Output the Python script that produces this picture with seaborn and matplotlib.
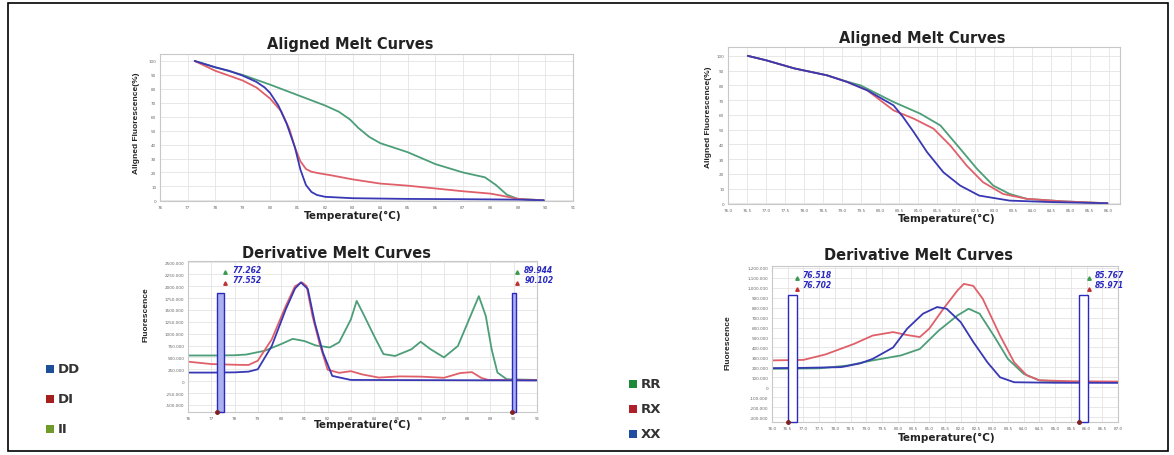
import numpy as np
import pandas as pd
import seaborn as sns
import matplotlib.pyplot as plt
from matplotlib.patches import Rectangle
from matplotlib.transforms import blended_transform_factory

W, H = 1174, 456

# ---- left assay (DD / DI / II) ----
al_dd_t = [77.26, 78.0, 78.5, 79.0, 79.5, 79.8, 80.0, 80.3, 80.6, 80.9, 81.1, 81.3, 81.5, 81.7, 82.0, 83.0, 85.0, 87.0, 89.0, 89.94]
al_dd_v = [100, 95.5, 93, 89.5, 85, 81, 77, 68, 55, 38, 22, 11, 6, 3.8, 2.5, 1.5, 1, 0.8, 0.5, 0]
al_di_t = [77.26, 78.0, 79.0, 79.5, 80.0, 80.4, 80.7, 80.9, 81.1, 81.3, 81.5, 81.8, 82.2, 83.0, 84.0, 85.0, 86.0, 87.0, 88.0, 88.5, 89.0, 89.94]
al_di_v = [100, 93, 86, 81, 73, 64, 51, 38, 28, 22.5, 20.5, 19.3, 18, 15, 12, 10.5, 8.5, 6.5, 4.8, 3, 1, 0]
al_ii_t = [77.26, 78.0, 79.0, 80.0, 81.0, 82.0, 82.5, 82.9, 83.2, 83.6, 84.0, 85.0, 86.0, 87.0, 87.8, 88.2, 88.6, 89.0, 89.94]
al_ii_v = [100, 95.5, 90, 83, 75.5, 68, 63.5, 58, 52, 45.5, 41, 34.5, 26, 20, 16.5, 11, 4, 1, 0]

dv_dd_t = [76, 77, 78, 78.6, 79.0, 79.6, 80.2, 80.6, 80.85, 81.15, 81.45, 81.8, 82.2, 83.0, 91]
dv_dd_v = [180, 180, 185, 200, 250, 740, 1510, 1950, 2080, 1940, 1230, 600, 110, 25, 15]
dv_di_t = [76, 77, 78, 78.6, 79.0, 79.6, 80.2, 80.6, 80.9, 81.1, 81.35, 81.65, 82.0, 82.5, 83.0, 83.5, 84.2, 85.1, 86.0, 87.0, 87.7, 88.2, 88.6, 88.9, 91]
dv_di_v = [410, 360, 345, 340, 430, 880, 1580, 2000, 2080, 2000, 1370, 800, 240, 175, 210, 140, 75, 100, 95, 70, 170, 190, 70, 25, 20]
dv_ii_t = [76, 77, 78, 78.5, 79.3, 80.0, 80.5, 81.0, 81.5, 82.1, 82.5, 83.0, 83.25, 83.5, 84.0, 84.4, 84.9, 85.6, 86.0, 86.4, 87.0, 87.6, 88.2, 88.5, 88.8, 89.05, 89.3, 89.7, 91]
dv_ii_v = [540, 540, 545, 560, 640, 780, 890, 845, 750, 710, 820, 1300, 1690, 1450, 950, 570, 530, 670, 830, 680, 500, 740, 1440, 1790, 1370, 670, 180, 40, 25]

# ---- right assay (RR / RX / XX) ----
ar_xx_t = [76.52, 77.0, 77.74, 78.6, 79.13, 79.66, 80.35, 80.6, 80.88, 81.23, 81.66, 82.1, 82.6, 83.4, 84.5, 85.97]
ar_xx_v = [100, 97, 91.5, 86.8, 82.3, 76.6, 66.4, 58.5, 48.3, 34.7, 21, 12, 5.2, 1.8, 0.8, 0]
ar_rx_t = [76.52, 77.0, 77.74, 78.6, 79.13, 79.66, 80.35, 80.88, 81.4, 81.84, 82.27, 82.7, 83.23, 83.85, 84.8, 85.97]
ar_rx_v = [100, 97, 91.5, 86.8, 82.3, 76.6, 63, 57.4, 50.6, 39.2, 25.6, 14.3, 6.3, 3, 1.3, 0]
ar_rr_t = [76.52, 77.0, 77.74, 78.6, 79.13, 79.48, 80.35, 81.05, 81.58, 82.1, 82.54, 82.97, 83.4, 83.85, 84.8, 85.97]
ar_rr_v = [100, 97, 91.5, 86.8, 82.5, 80, 68.7, 60.8, 52.8, 37, 23.4, 12, 6.3, 3, 1.3, 0]

dr_rx_t = [76.0, 77.0, 77.7, 78.6, 79.2, 79.85, 80.3, 80.7, 81.0, 81.45, 81.9, 82.1, 82.4, 82.7, 83.25, 83.7, 84.1, 84.5, 85.5, 87.0]
dr_rx_v = [270, 275, 330, 435, 520, 555, 525, 505, 590, 790, 975, 1040, 1020, 890, 520, 250, 120, 70, 60, 57]
dr_xx_t = [76.0, 77.0, 78.2, 78.8, 79.2, 79.85, 80.3, 80.8, 81.25, 81.55, 82.0, 82.4, 82.85, 83.25, 83.7, 85.0, 87.0]
dr_xx_v = [192, 195, 202, 240, 285, 400, 590, 740, 807, 790, 655, 455, 250, 100, 50, 45, 44]
dr_rr_t = [76.0, 77.5, 78.4, 79.2, 80.1, 80.7, 81.3, 81.9, 82.25, 82.6, 83.05, 83.5, 84.0, 84.5, 85.5, 87.0]
dr_rr_v = [185, 190, 218, 270, 320, 385, 570, 723, 790, 740, 520, 285, 135, 68, 55, 50]

cursor_left = [("77.262", "77.552"), ("89.944", "90.102")]
cursor_right = [("76.518", "76.702"), ("85.767", "85.971")]

left_names = ["DD", "DI", "II"]
right_names = ["RR", "RX", "XX"]

BLUE, RED, GREEN = "#3838b4", "#e0606a", "#4c9e78"
CUR = "#2a2ac0"
TRI_G, TRI_R = "#3a9a50", "#c03030"

sns.set_style('whitegrid')
plt.rcParams['font.family'] = ['DejaVu Sans']

fig = plt.figure(figsize=(W / 100, H / 100), dpi=100)


def px_axes(left, top, right, bottom):
    return fig.add_axes([left / W, 1 - bottom / H, (right - left) / W, (bottom - top) / H])


def ftext(x, y, s, **kw):
    fig.text(x / W, 1 - y / H, s, **kw)


def style_axes(ax, xlim, ylim, xticks, xlabels, yticks, ylabels):
    ax.set_xlim(*xlim)
    ax.set_ylim(*ylim)
    ax.set_xticks(xticks)
    ax.set_xticklabels(xlabels)
    ax.set_yticks(yticks)
    ax.set_yticklabels(ylabels)
    ax.tick_params(labelsize=3.0, colors='#666666', length=1.5, width=0.5, pad=1.2)
    ax.grid(True, color='#e4e4e4', linewidth=0.6)
    for s in ax.spines.values():
        s.set_color('#c8c8c8')
        s.set_linewidth(0.8)
    ax.set_xlabel('')
    ax.set_ylabel('')


def draw_lines(ax, series):
    for t, v, c in series:
        df = pd.DataFrame({'t': t, 'v': v})
        sns.lineplot(data=df, x='t', y='v', color=c, linewidth=1.3, sort=False, estimator=None, ax=ax)


def draw_cursor(ax, x0, x1, top, ybot, filled, labels, dx):
    ax.add_patch(Rectangle((x0, ybot), x1 - x0, top - ybot,
                           facecolor='#aab0f0' if filled else 'white',
                           edgecolor=CUR, linewidth=1.0, zorder=5, clip_on=False))
    tr = blended_transform_factory(ax.transData, ax.transAxes)
    ax.plot([x1 + dx * 0.15], [0.925], marker='^', color=TRI_G, ms=2.5, transform=tr, clip_on=False)
    ax.plot([x1 + dx * 0.15], [0.855], marker='^', color=TRI_R, ms=2.5, transform=tr, clip_on=False)
    ax.text(x1 + dx, 0.945, labels[0], transform=tr, fontsize=5.5, color=CUR, style='italic',
            fontweight='bold', va='center', clip_on=False)
    ax.text(x1 + dx, 0.88, labels[1], transform=tr, fontsize=5.5, color=CUR, style='italic',
            fontweight='bold', va='center', clip_on=False)
    ax.plot([x0], [ybot], marker='o', color='#802020', ms=2.5, clip_on=False, zorder=6)


# top left: aligned melt curves
ax1 = px_axes(160, 55, 573, 202)
draw_lines(ax1, [(al_ii_t, al_ii_v, GREEN), (al_di_t, al_di_v, RED), (al_dd_t, al_dd_v, BLUE)])
t1 = list(range(76, 92))
style_axes(ax1, (76, 91), (-0.5, 105), t1, [str(t) for t in t1],
           list(range(0, 101, 10)), [str(v) for v in range(0, 101, 10)])

# top right: aligned melt curves
ax2 = px_axes(728, 48, 1120, 205)
draw_lines(ax2, [(ar_rr_t, ar_rr_v, GREEN), (ar_rx_t, ar_rx_v, RED), (ar_xx_t, ar_xx_v, BLUE)])
t2 = list(np.arange(76.0, 86.01, 0.5))
style_axes(ax2, (76.0, 86.3), (-0.5, 106), t2, ['%.1f' % t for t in t2],
           list(range(0, 101, 10)), [str(v) for v in range(0, 101, 10)])

# bottom left: derivative melt curves
ax3 = px_axes(188, 262, 537, 413)
draw_lines(ax3, [(dv_ii_t, dv_ii_v, GREEN), (dv_di_t, dv_di_v, RED), (dv_dd_t, dv_dd_v, BLUE)])
y3 = list(range(-500, 2501, 250))
style_axes(ax3, (76, 91), (-650, 2530), t1, [str(t) for t in t1],
           y3, ['0' if v == 0 else '%.3f' % v for v in y3])
draw_cursor(ax3, 77.262, 77.552, 1866, -650, True, cursor_left[0], 0.35)
draw_cursor(ax3, 89.944, 90.102, 1866, -650, True, cursor_left[1], 0.35)

# bottom right: derivative melt curves
ax4 = px_axes(772, 267, 1118, 423)
draw_lines(ax4, [(dr_rr_t, dr_rr_v, GREEN), (dr_rx_t, dr_rx_v, RED), (dr_xx_t, dr_xx_v, BLUE)])
t4 = list(np.arange(76.0, 87.01, 0.5))
y4 = list(range(-300, 1201, 100))
style_axes(ax4, (76.0, 87.0), (-350, 1220), t4, ['%.1f' % t for t in t4],
           y4, ['0' if v == 0 else '{:,.3f}'.format(v) for v in y4])
draw_cursor(ax4, 76.518, 76.78, 924, -350, False, cursor_right[0], 0.2)
draw_cursor(ax4, 85.767, 86.05, 924, -350, False, cursor_right[1], 0.2)

# titles and axis labels
title_kw = dict(fontsize=10.5, fontweight='bold', ha='center', va='center', color='#222222')
ftext(350, 44, 'Aligned Melt Curves', **title_kw)
ftext(922, 38, 'Aligned Melt Curves', **title_kw)
ftext(336, 253, 'Derivative Melt Curves', **title_kw)
ftext(919, 256, 'Derivative Melt Curves', **title_kw)

xl_kw = dict(fontsize=7.5, fontweight='bold', ha='center', va='center', color='#222222')
ftext(353, 216, 'Temperature(°C)', **xl_kw)
ftext(947, 219, 'Temperature(°C)', **xl_kw)
ftext(363, 425, 'Temperature(°C)', **xl_kw)
ftext(947, 438, 'Temperature(°C)', **xl_kw)

yl_kw = dict(fontsize=6, fontweight='bold', ha='center', va='center', rotation=90,
             color='#222222', family=['Liberation Sans', 'DejaVu Sans'])
ftext(137, 123, 'Aligned Fluorescence(%)', **yl_kw)
ftext(708, 117, 'Aligned Fluorescence(%)', **yl_kw)
ftext(146, 315, 'Fluorescence', **yl_kw)
ftext(728, 343, 'Fluorescence', **yl_kw)


# legends
def legend_item(x, y, color, name):
    fig.patches.append(Rectangle(((x - 4) / W, 1 - (y + 4) / H), 8 / W, 8 / H, transform=fig.transFigure,
                                 facecolor=color, edgecolor='none', figure=fig))
    ftext(x + 8, y, name, fontsize=9.5, fontweight='bold', ha='left', va='center', color='#333333')


for name, y, c in zip(left_names, [370, 400, 430], ["#1f4e99", "#a3201f", "#6e9b2a"]):
    legend_item(50, y, c, name)
for name, y, c in zip(right_names, [385, 410, 435], ["#1d8a3a", "#b0202a", "#1f4ea0"]):
    legend_item(633, y, c, name)

# outer frame
fig.patches.append(Rectangle((8 / W, 4 / H), 1160 / W, 448 / H, transform=fig.transFigure,
                             facecolor='none', edgecolor='black', linewidth=1.2, figure=fig))

fig.savefig('out.png', dpi=100)
